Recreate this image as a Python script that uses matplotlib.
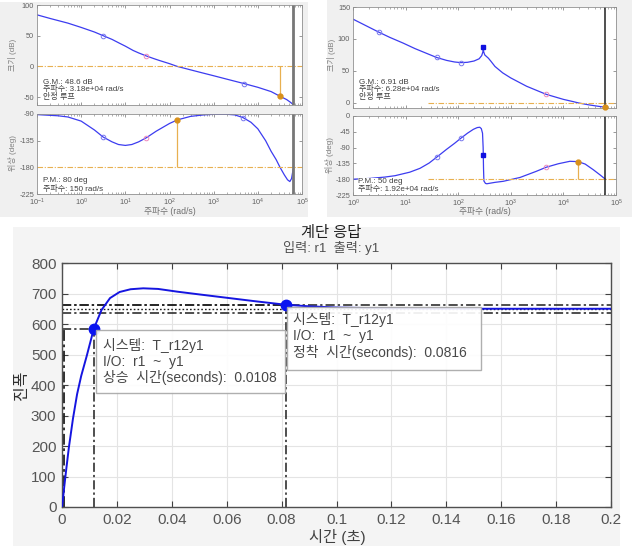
import numpy as np
import matplotlib
matplotlib.use('Agg')
from matplotlib import pyplot as plt
from matplotlib.patches import Rectangle
from matplotlib.ticker import LogLocator, NullFormatter

plt.rcParams['font.family'] = ['Liberation Sans', 'Noto Sans CJK KR', 'DejaVu Sans']
plt.rcParams['mathtext.fontset'] = 'dejavusans'
plt.rcParams['axes.unicode_minus'] = False

# ---- left bode (G.M. 48.6 dB, P.M. 80 deg) ----
ml_w = [0.1, 0.2, 0.5, 1, 2, 3.16, 5, 7.5, 10, 15, 20, 30, 45, 60, 100, 150,
        300, 500, 1000, 2000, 4900, 1e4, 2e4, 3.18e4, 4.5e4, 5.5e4, 6.28e4]
ml_db = [84, 78, 70.5, 63.5, 56, 50, 44, 37.5, 33, 26, 22, 17, 12.5, 9.5, 4.5, 0,
         -5.6, -9.7, -15.2, -20.8, -28, -34, -41, -48.6, -54, -58.5, -62]
pl_w = [0.1, 0.3, 0.5, 1, 2, 3.16, 5, 7, 10, 14, 20, 30, 50, 100, 150, 300, 600,
        1000, 2000, 3000, 4600, 7000, 1e4, 1.5e4, 2e4, 2.6e4, 3.18e4, 4e4, 4.7e4,
        5.3e4, 5.8e4, 6.28e4]
pl_deg = [-91, -93, -95, -102, -117, -129, -137, -141.5, -143, -141.5, -137, -130,
          -119, -106, -100, -94, -91.5, -90.5, -90.5, -91.5, -96, -104, -115, -135,
          -153, -167, -180, -193, -201, -204, -199, -184]
ml_mk_w = [3.16, 30, 4900]
ml_mk_db = [50, 17, -28]
pl_mk_w = [3.16, 30, 4600]
pl_mk_deg = [-129, -130, -96]
mk_l_col = ['#7777ee', '#ee88bb', '#7777ee']
gm_l = (3.18e4, -48.6)
pm_l = (150, -100)

# ---- right bode (G.M. 6.91 dB, P.M. 50 deg) ----
mr_w = [1, 2, 3.12, 5, 9, 15, 25, 39, 60, 85, 112, 150, 200, 250, 280, 295, 300,
        305, 320, 374, 420, 500, 700, 1000, 2000, 4700, 1e4, 1.53e4, 1.92e4, 3e4,
        4.5e4, 6.28e4]
mr_db = [131, 118.5, 110.5, 102.5, 93.5, 85, 77.5, 71, 66.5, 64, 63, 63.5, 65.5, 69,
         74, 80, 87, 80, 75, 70, 65, 57, 47, 39, 26, 13.4, 5.5, 2, 0, -3, -5.2, -6.9]
pr_w = [1, 2, 4, 6.3, 12, 18.8, 28, 40, 60, 85, 112, 150, 194, 230, 257, 275, 290,
        298, 300, 303, 308, 330, 350, 500, 720, 1500, 3000, 4700, 8000, 1.33e4,
        1.92e4, 2.6e4, 3.7e4, 5e4, 6.28e4]
pr_deg = [-180, -178, -174, -170, -160, -149, -134, -116, -95, -78, -63.5, -49, -38,
          -33, -32, -36, -49, -90, -112, -150, -185, -192, -193, -189, -186, -175,
          -158, -146, -136, -129, -130, -137, -153, -168, -180]
mr_mk_w = [3.12, 39, 112, 4700]
mr_mk_db = [110.5, 71, 63, 13.4]
mk_r_col = ['#7777ee', '#7777ee', '#7777ee', '#ee88bb']
pr_mk_w = [39, 112, 4700]
pr_mk_deg = [-116, -63.5, -146]
mk_rp_col = ['#7777ee', '#7777ee', '#ee88bb']
peak_r = (300, 87, -112)
gm_r = (6.28e4, -6.91)
pm_r = (1.92e4, -130)
nyq_w = 6.28e4

# ---- step response ----
st_t = [0, 0.0004, 0.0008, 0.0015, 0.0025, 0.004, 0.0055, 0.007, 0.009, 0.0116,
        0.0144, 0.0175, 0.021, 0.025, 0.0296, 0.035, 0.042, 0.05, 0.06, 0.07,
        0.0816, 0.09, 0.1, 0.12, 0.14, 0.16, 0.18, 0.2]
st_y = [0, 30, 65, 120, 195, 290, 370, 430, 495, 585, 646, 685, 705, 714, 717, 715,
        706, 697, 686, 675, 663, 658, 654, 651, 650, 650, 650, 650]
y_final = 650
band_hi, band_lo = 663, 637
t10, t90, y90 = 0.0008, 0.0116, 585
t_settle, y_settle = 0.0816, 663
step_xticks = [0, 0.02, 0.04, 0.06, 0.08, 0.1, 0.12, 0.14, 0.16, 0.18, 0.2]
step_xlabels = ['0', '0.02', '0.04', '0.06', '0.08', '0.1', '0.12', '0.14', '0.16',
                '0.18', '0.2']
tip1 = ['시스템:  T_r12y1', 'I/O:  r1  ~  y1', '상승  시간(seconds):  0.0108']
tip2 = ['시스템:  T_r12y1', 'I/O:  r1  ~  y1', '정착  시간(seconds):  0.0816']

W, H = 637, 546
LINE = '#3c3cf0'
ORG = '#d8901a'
ORG_L = '#e8b050'

fig = plt.figure(figsize=(W / 100, H / 100), dpi=100)
fig.patch.set_facecolor('white')


def bg(x0, y0, x1, y1, c):
    fig.patches.append(Rectangle((x0 / W, 1 - y1 / H), (x1 - x0) / W, (y1 - y0) / H,
                                 transform=fig.transFigure, fc=c, ec='none', zorder=-5))


def px_axes(l, t, r, b):
    return fig.add_axes([l / W, 1 - b / H, (r - l) / W, (b - t) / H])


def ftext(x, y, s, **kw):
    kw.setdefault('fontsize', 5.8)
    kw.setdefault('color', '#404040')
    kw.setdefault('va', 'center')
    return fig.text(x / W, 1 - y / H, s, **kw)


def style_bode(ax, xlim, ylim, yticks, show_x):
    ax.set_xscale('log')
    ax.set_xlim(*xlim)
    ax.set_ylim(*ylim)
    ax.set_yticks(yticks)
    ax.xaxis.set_minor_locator(LogLocator(base=10, subs=np.arange(2, 10), numticks=20))
    ax.xaxis.set_minor_formatter(NullFormatter())
    ax.tick_params(which='both', direction='in', top=True, right=True,
                   labelsize=5.3, labelcolor='#606060', color='#707070', pad=2)
    ax.tick_params(which='major', length=2.5, width=0.5)
    ax.tick_params(which='minor', length=1.3, width=0.4)
    ax.tick_params(labelbottom=show_x)
    for s in ax.spines.values():
        s.set_color('#909090')
        s.set_linewidth(0.6)


bg(0, 2, 308, 217, '#f0f0f0')
bg(327, 0, 632, 217, '#f0f0f0')
bg(13, 227, 620, 546, '#f4f4f4')

# ---- left bode ----
ax = px_axes(37, 5, 302, 104.5)
style_bode(ax, (0.1, 1e5), (-62, 100), [-50, 0, 50, 100], False)
ax.plot(ml_w, ml_db, color=LINE, lw=0.9)
ax.axhline(0, color=ORG_L, lw=0.8, ls=(0, (5, 1.5, 1, 1.5)))
ax.vlines(gm_l[0], gm_l[1], 0, color=ORG_L, lw=0.9)
ax.plot(*gm_l, 'o', color=ORG, ms=3.5)
for w, d, c in zip(ml_mk_w, ml_mk_db, mk_l_col):
    ax.plot(w, d, 'o', mfc='none', mec=c, ms=3.3, mew=0.7)
ax.axvline(nyq_w, color='#777777', lw=2)

ax = px_axes(37, 114, 302, 194)
style_bode(ax, (0.1, 1e5), (-225, -90), [-225, -180, -135, -90], True)
ax.plot(pl_w, pl_deg, color=LINE, lw=0.9)
ax.axhline(-180, color=ORG_L, lw=0.8, ls=(0, (5, 1.5, 1, 1.5)))
ax.vlines(pm_l[0], -180, pm_l[1], color=ORG_L, lw=0.9)
ax.plot(*pm_l, 'o', color=ORG, ms=3.5)
for w, d, c in zip(pl_mk_w, pl_mk_deg, mk_l_col):
    ax.plot(w, d, 'o', mfc='none', mec=c, ms=3.3, mew=0.7)
ax.axvline(nyq_w, color='#777777', lw=2)

ftext(13, 55, '크기 (dB)', rotation=90, ha='center', color='#808080', fontsize=5.8)
ftext(13, 153, '위상 (deg)', rotation=90, ha='center', color='#808080', fontsize=5.8)
ftext(170, 212, '주파수 (rad/s)', ha='center', color='#707070', fontsize=6.3)
ftext(43, 82, 'G.M.: 48.6 dB')
ftext(43, 89.5, '주파수: 3.18e+04 rad/s')
ftext(43, 97, '안정 루프')
ftext(43, 181, 'P.M.: 80 deg')
ftext(43, 188.5, '주파수: 150 rad/s')

# ---- right bode ----
ax = px_axes(353, 7, 616, 108)
style_bode(ax, (1, 1e5), (-8, 150), [0, 50, 100, 150], False)
ax.plot(mr_w, mr_db, color=LINE, lw=0.9)
ax.hlines(0, 27, 1e5, color=ORG_L, lw=0.8, ls=(0, (5, 1.5, 1, 1.5)))
for w, d, c in zip(mr_mk_w, mr_mk_db, mk_r_col):
    ax.plot(w, d, 'o', mfc='none', mec=c, ms=3.3, mew=0.7)
ax.plot(peak_r[0], peak_r[1], 's', color='#1010e0', ms=2.8)
ax.axvline(nyq_w, color='#202020', lw=1.1)
ax.plot(*gm_r, 'o', color=ORG, ms=3.5, clip_on=False, zorder=5)

ax = px_axes(353, 116, 616, 195)
style_bode(ax, (1, 1e5), (-225, 0), [-225, -180, -135, -90, -45, 0], True)
ax.plot(pr_w, pr_deg, color=LINE, lw=0.9)
ax.hlines(-180, 27, 1e5, color=ORG_L, lw=0.8, ls=(0, (5, 1.5, 1, 1.5)))
ax.vlines(pm_r[0], -180, pm_r[1], color=ORG_L, lw=0.9)
ax.plot(*pm_r, 'o', color=ORG, ms=3.5)
for w, d, c in zip(pr_mk_w, pr_mk_deg, mk_rp_col):
    ax.plot(w, d, 'o', mfc='none', mec=c, ms=3.3, mew=0.7)
ax.plot(peak_r[0], peak_r[2], 's', color='#1010e0', ms=2.8)
ax.axvline(nyq_w, color='#202020', lw=1.1)

ftext(332, 55, '크기 (dB)', rotation=90, ha='center', color='#808080', fontsize=5.8)
ftext(330, 155, '위상 (deg)', rotation=90, ha='center', color='#808080', fontsize=5.8)
ftext(485, 212, '주파수 (rad/s)', ha='center', color='#707070', fontsize=6.3)
ftext(359, 82, 'G.M.: 6.91 dB')
ftext(359, 89.5, '주파수: 6.28e+04 rad/s')
ftext(359, 97, '안정 루프')
wb = dict(fc='white', ec='none', pad=0.3)
ftext(358, 182, 'P.M.: 50 deg', bbox=wb)
ftext(358, 189.5, '주파수: 1.92e+04 rad/s', bbox=wb)

# ---- step response ----
ax = px_axes(62, 263, 611, 507)
ax.set_xlim(0, 0.2)
ax.set_ylim(0, 800)
ax.set_xticks(step_xticks)
ax.set_xticklabels(step_xlabels)
ax.set_yticks(np.arange(0, 801, 100))
ax.grid(True, color='#e4e4e4', lw=0.8)
ax.set_axisbelow(True)
ax.tick_params(direction='in', top=True, right=True, labelsize=11,
               labelcolor='#555555', color='#404040', length=4, pad=4)
for s in ax.spines.values():
    s.set_color('#505050')
    s.set_linewidth(1.0)

dd = (0, (6, 2, 1.5, 2))
kc = '#1e1e1e'
ax.axhline(band_hi, color=kc, lw=1.1, ls=dd)
ax.axhline(band_lo, color=kc, lw=1.1, ls=dd)
ax.axhline(y_final, color=kc, lw=1.0, ls=(0, (1.2, 1.5)))
ax.hlines(y_settle, 0, t_settle, color=kc, lw=1.1, ls=dd)
ax.vlines(t_settle, 0, y_settle, color=kc, lw=1.1, ls=dd)
ax.hlines(y90, 0, t90, color=kc, lw=1.1, ls=dd)
ax.vlines(t90, 0, y90, color=kc, lw=1.1, ls=dd)
ax.vlines(t10, 0, y90, color=kc, lw=1.3, ls=dd)
ax.plot(st_t, st_y, color='#1515e0', lw=1.4, zorder=4)
ax.plot([t90, t_settle], [y90, y_settle], 'o', color='#0a14f0', ms=7.5, zorder=6)

for (x0, x1, y0, y1), lines, ly in [((0.0124, 0.0811, 374, 580), tip1, [528, 475, 426]),
                                    ((0.0818, 0.1525, 449, 656), tip2, [616, 561, 505])]:
    ax.add_patch(Rectangle((x0, y0), x1 - x0, y1 - y0, fc='white', ec='#a8a8a8',
                           lw=1.0, alpha=0.92, zorder=7))
    for s, yy in zip(lines, ly):
        ax.text(x0 + 0.0025, yy, s, fontsize=10, color='#484848', va='center',
                zorder=8)

ax.text(0.49, 1.125, '계단 응답', transform=ax.transAxes, ha='center', va='center',
        fontsize=11, color='#202020')
ax.text(0.49, 1.06, '입력: r1  출력: y1', transform=ax.transAxes, ha='center',
        va='center', fontsize=9.5, color='#505050')
ftext(21, 385, '진폭', rotation=90, ha='center', fontsize=11.5, color='#303030')
ftext(337, 537, '시간 (초)', ha='center', fontsize=11, color='#404040')

fig.savefig('out.png', dpi=100, facecolor=fig.get_facecolor())
